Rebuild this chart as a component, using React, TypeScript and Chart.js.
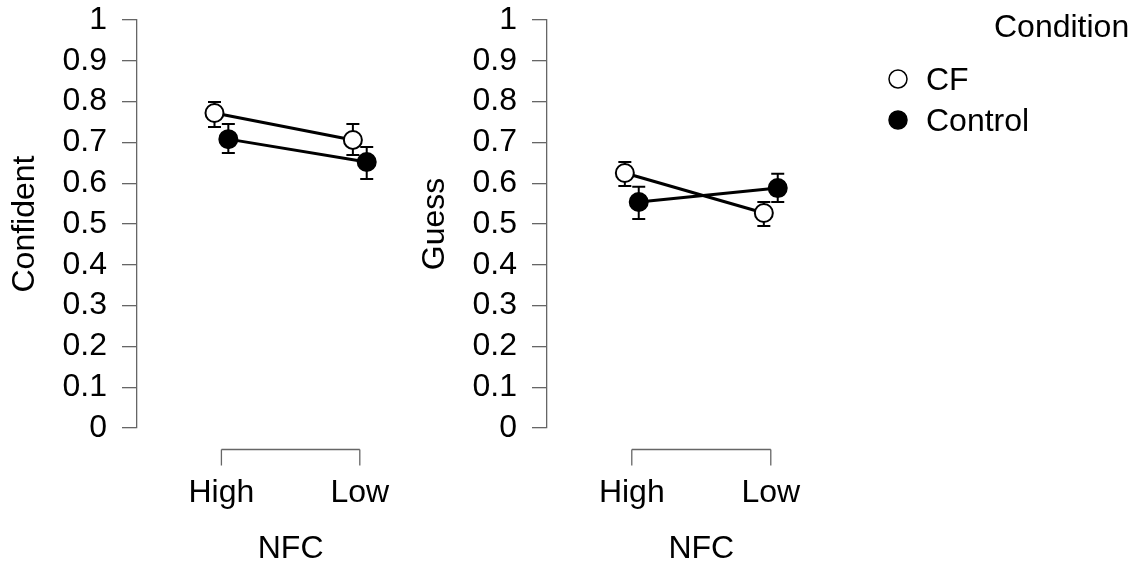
import React, { useEffect, useRef } from "react";
import { Chart, registerables } from "chart.js";

Chart.register(...registerables);

// ---------- data ----------
const categories = ["High", "Low"];
const categoryPositions = [1, 2];
const conditions = ["CF", "Control"];
const dodgeOffsets = [-0.05, 0.05];

const confidentCF = [0.772, 0.706];
const confidentCFLower = [0.738, 0.669];
const confidentCFUpper = [0.799, 0.745];
const confidentControl = [0.708, 0.652];
const confidentControlLower = [0.674, 0.61];
const confidentControlUpper = [0.745, 0.689];

const guessCF = [0.625, 0.527];
const guessCFLower = [0.593, 0.495];
const guessCFUpper = [0.652, 0.554];
const guessControl = [0.554, 0.588];
const guessControlLower = [0.512, 0.554];
const guessControlUpper = [0.591, 0.623];

const yTickValues = [0, 0.1, 0.2, 0.3, 0.4, 0.5, 0.6, 0.7, 0.8, 0.9, 1];
const yTickLabels = ["0", "0.1", "0.2", "0.3", "0.4", "0.5", "0.6", "0.7", "0.8", "0.9", "1"];
const xAxisTitle = "NFC";
const legendTitle = "Condition";

// ---------- style ----------
const FONT = "'Liberation Sans', Arial, Helvetica, sans-serif";
const FONT_SIZE = 32;
const AXIS_COLOR = "#666666";
const X_MIN = 0.39;
const X_MAX = 2.5;
const AXIS_LEFT = 137;
const UNIT_PX = 139;

type Series = { label: string; mean: number[]; lower: number[]; upper: number[]; fill: string };

function makeDataset(s: Series, k: number) {
  return {
    label: s.label,
    data: categoryPositions.map((c, j) => ({ x: c + dodgeOffsets[k], y: s.mean[j] })),
    lower: s.lower,
    upper: s.upper,
    borderColor: "#000000",
    borderWidth: 3,
    pointRadius: 9,
    pointHoverRadius: 9,
    pointBackgroundColor: s.fill,
    pointBorderColor: "#000000",
    pointBorderWidth: 2,
    fill: false,
    tension: 0,
  };
}

const errorBarPlugin = {
  id: "errorBars",
  beforeDatasetsDraw(chart: any) {
    const { ctx, scales } = chart;
    const xs = scales.x;
    const ys = scales.y;
    ctx.save();
    ctx.strokeStyle = "#000000";
    ctx.lineWidth = 2;
    chart.data.datasets.forEach((ds: any) => {
      ds.data.forEach((p: any, j: number) => {
        const x = xs.getPixelForValue(p.x);
        const yl = ys.getPixelForValue(ds.lower[j]);
        const yu = ys.getPixelForValue(ds.upper[j]);
        ctx.beginPath();
        ctx.moveTo(x, yl);
        ctx.lineTo(x, yu);
        ctx.moveTo(x - 6.5, yl);
        ctx.lineTo(x + 6.5, yl);
        ctx.moveTo(x - 6.5, yu);
        ctx.lineTo(x + 6.5, yu);
        ctx.stroke();
      });
    });
    ctx.restore();
  },
};

const xAxisPlugin = {
  id: "rStyleXAxis",
  afterDraw(chart: any) {
    const { ctx, scales, chartArea } = chart;
    const xs = scales.x;
    const x1 = xs.getPixelForValue(categoryPositions[0]);
    const x2 = xs.getPixelForValue(categoryPositions[categoryPositions.length - 1]);
    const yLine = Math.round(chartArea.bottom + 21) + 0.5;
    ctx.save();
    ctx.strokeStyle = AXIS_COLOR;
    ctx.lineWidth = 1.3;
    ctx.beginPath();
    ctx.moveTo(x1, yLine);
    ctx.lineTo(x2, yLine);
    categoryPositions.forEach((c) => {
      const x = xs.getPixelForValue(c);
      ctx.moveTo(x, yLine);
      ctx.lineTo(x, yLine + 16);
    });
    ctx.stroke();
    ctx.fillStyle = "#000000";
    ctx.font = `${FONT_SIZE}px ${FONT}`;
    ctx.textAlign = "center";
    ctx.textBaseline = "alphabetic";
    categoryPositions.forEach((c, i) => {
      ctx.fillText(categories[i], xs.getPixelForValue(c), chartArea.bottom + 74);
    });
    ctx.fillText(xAxisTitle, (x1 + x2) / 2, chartArea.bottom + 130);
    ctx.restore();
  },
};

function makeLegendPlugin(offsetLeft: number) {
  return {
    id: "conditionLegend",
    afterDraw(chart: any) {
      const { ctx } = chart;
      ctx.save();
      ctx.font = `${FONT_SIZE}px ${FONT}`;
      ctx.fillStyle = "#000000";
      ctx.textBaseline = "alphabetic";
      ctx.textAlign = "left";
      ctx.fillText(legendTitle, 994 - offsetLeft, 37);
      chart.data.datasets.forEach((ds: any, i: number) => {
        const cy = 79 + i * 41;
        ctx.beginPath();
        ctx.arc(898 - offsetLeft, cy, 9, 0, Math.PI * 2);
        ctx.fillStyle = ds.pointBackgroundColor;
        ctx.fill();
        ctx.lineWidth = 1.5;
        ctx.strokeStyle = ds.pointBorderColor;
        ctx.stroke();
        ctx.fillStyle = "#000000";
        ctx.fillText(ds.label, 926 - offsetLeft, cy + 11);
      });
      ctx.restore();
    },
  };
}

type PanelProps = {
  yTitle: string;
  series: Series[];
  left: number;
  width: number;
  legend: boolean;
};

function Panel({ yTitle, series, left, width, legend }: PanelProps) {
  const ref = useRef<HTMLCanvasElement | null>(null);
  useEffect(() => {
    if (!ref.current) return;
    const areaRight = AXIS_LEFT + (X_MAX - X_MIN) * UNIT_PX;
    const plugins: any[] = [errorBarPlugin, xAxisPlugin];
    if (legend) plugins.push(makeLegendPlugin(left));
    const chart = new Chart(ref.current, {
      type: "line",
      data: { datasets: series.map((s, k) => makeDataset(s, k)) as any },
      options: {
        animation: false,
        responsive: false,
        events: [],
        layout: { padding: { left: 0, top: 20, right: width - areaRight, bottom: 137 } },
        plugins: { legend: { display: false }, tooltip: { enabled: false } },
        scales: {
          x: { type: "linear", display: false, min: X_MIN, max: X_MAX },
          y: {
            type: "linear",
            position: "left",
            min: 0,
            max: 1,
            afterBuildTicks: (s: any) => {
              s.ticks = yTickValues.map((v) => ({ value: v }));
            },
            afterFit: (s: any) => {
              s.width = AXIS_LEFT;
              s.paddingTop = 0;
              s.paddingBottom = 0;
            },
            ticks: {
              autoSkip: false,
              callback: (_v: any, i: number) => yTickLabels[i],
              font: { family: FONT, size: FONT_SIZE },
              color: "#000000",
              padding: 15,
            },
            grid: {
              drawOnChartArea: false,
              drawTicks: true,
              tickLength: 15,
              color: AXIS_COLOR,
              lineWidth: 1.3,
            },
            border: { display: true, color: AXIS_COLOR, width: 1.3 },
            title: {
              display: true,
              text: yTitle,
              color: "#000000",
              font: { family: FONT, size: FONT_SIZE },
              padding: { top: 6, bottom: 0 },
            },
          },
        },
      } as any,
      plugins,
    });
    return () => chart.destroy();
  }, []);
  return (
    <canvas
      ref={ref}
      width={width}
      height={565}
      style={{ position: "absolute", left, top: 0, width, height: 565 }}
    />
  );
}

export default function App() {
  const confidentSeries: Series[] = [
    { label: conditions[0], mean: confidentCF, lower: confidentCFLower, upper: confidentCFUpper, fill: "#ffffff" },
    { label: conditions[1], mean: confidentControl, lower: confidentControlLower, upper: confidentControlUpper, fill: "#000000" },
  ];
  const guessSeries: Series[] = [
    { label: conditions[0], mean: guessCF, lower: guessCFLower, upper: guessCFUpper, fill: "#ffffff" },
    { label: conditions[1], mean: guessControl, lower: guessControlLower, upper: guessControlUpper, fill: "#000000" },
  ];
  return (
    <div style={{ position: "fixed", left: 0, top: 0, width: 1137, height: 565, background: "#ffffff", overflow: "hidden" }}>
      <Panel yTitle="Confident" series={confidentSeries} left={0} width={440} legend={false} />
      <Panel yTitle="Guess" series={guessSeries} left={410} width={727} legend={true} />
    </div>
  );
}
